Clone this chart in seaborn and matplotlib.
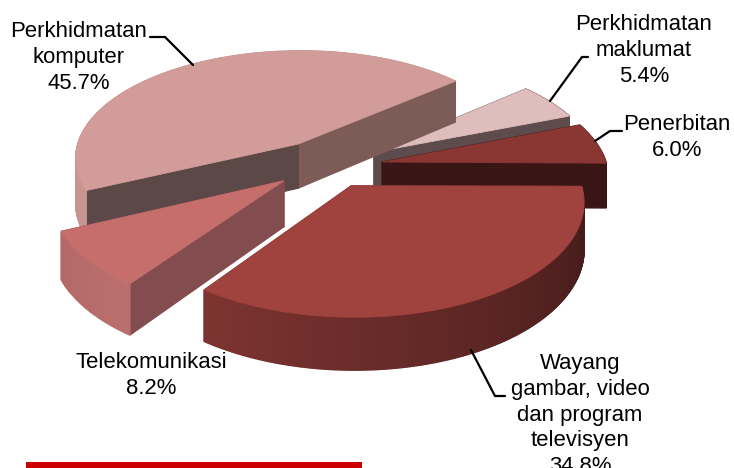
import numpy as np
import matplotlib
matplotlib.use("Agg")
import matplotlib.pyplot as plt
import seaborn as sns

# data
labels = ["Perkhidmatan\nmaklumat\n5.4%", "Penerbitan\n6.0%",
          "Perkhidmatan\nkomputer\n45.7%", "Telekomunikasi\n8.2%",
          "Wayang\ngambar, video\ndan program\ntelevisyen\n34.8%"]
names = ["maklumat", "penerbitan", "komputer", "telekom", "wayang"]
values = [5.4, 6.0, 45.7, 8.2, 34.8]

# style
start_deg = 21.0
explode = {"maklumat": .29, "penerbitan": .26, "komputer": .20, "telekom": .25, "wayang": .22}
nudge = {"maklumat": (-6, 6), "penerbitan": (0, 5), "komputer": (-3, 0), "telekom": (3, 1), "wayang": (3, 2)}
top_col = {"maklumat": "#e0bdbd", "penerbitan": "#8a3734", "komputer": "#d29c9a",
           "telekom": "#c56e6c", "wayang": "#a0423e"}
start_wall = {"maklumat": "#5e4b4b", "penerbitan": "#3a1515", "komputer": "#7d5c58",
              "telekom": "#8a5050", "wayang": "#7a3330"}
end_wall = {"maklumat": "#5e4b4b", "penerbitan": "#3a1515", "komputer": "#5c4847",
            "telekom": "#834c4e", "wayang": "#7a3330"}
outer_grad = {"maklumat": ("#5e4b4b", "#5e4b4b"), "penerbitan": ("#3a1515", "#3a1515"),
              "komputer": ("#c89490", "#c89490"), "telekom": ("#b46868", "#bb6e6e"),
              "wayang": ("#7d3431", "#3e1918")}
text_pos = {"maklumat": (644, 14), "penerbitan": (677, 114), "komputer": (79, 21),
            "telekom": (151, 352), "wayang": (580, 353)}
leaders = {"maklumat": ([550, 582, 588], [101, 57, 57]), "penerbitan": ([595, 610, 622], [141, 131, 131]),
           "komputer": ([150, 165, 193], [37, 37, 65]), "wayang": ([471, 495, 505], [350, 396, 396])}

sns.set_theme(style="white")
plt.rcParams["font.family"] = ["Liberation Sans", "DejaVu Sans"]

fig, ax = plt.subplots(figsize=(7.34, 4.68), dpi=100)
ax.set_position([0, 0, 1, 1])
ax.set_xlim(0, 734)
ax.set_ylim(468, 0)
ax.axis("off")

CX, CY, R, S, D, H = 325, 162, 225, 109, 8.0, 45


def project(x, y, z=0.0):
    w = D / (D + y)
    return CX + R * x * w, CY - S * y * w + H * z * w


def quad(p, q, z0=0.0, z1=1.0):
    a = project(*p, z0); b = project(*q, z0); c = project(*q, z1); d = project(*p, z1)
    return [a[0], b[0], c[0], d[0]], [a[1], b[1], c[1], d[1]]


def draw_slice(name, a0, a1):
    bis = np.radians((a0 + a1) / 2)
    ox, oy = explode[name] * np.cos(bis), explode[name] * np.sin(bis)
    dx, dy = nudge[name]
    th = np.radians(np.linspace(a0, a1, max(int(a1 - a0), 2) * 2 + 1))
    xs, ys = ox + np.cos(th), oy + np.sin(th)
    apex = (ox, oy)
    walls = []
    pal = sns.blend_palette(list(outer_grad[name]), len(th) - 1)
    for i in range(len(th) - 1):
        p, q = (xs[i], ys[i]), (xs[i + 1], ys[i + 1])
        walls.append(((ys[i] + ys[i + 1]) / 2, p, q, pal[i]))
    walls.append(((apex[1] + ys[0]) / 2, apex, (xs[0], ys[0]), start_wall[name]))
    walls.append(((apex[1] + ys[-1]) / 2, apex, (xs[-1], ys[-1]), end_wall[name]))
    for _, p, q, col in sorted(walls, key=lambda t: -t[0]):
        px, py = quad(p, q)
        ax.fill(np.add(px, dx), np.add(py, dy), color=col, lw=1.0, zorder=2)
    tx, ty = project(np.r_[apex[0], xs], np.r_[apex[1], ys])
    ax.fill(tx + dx, ty + dy, color=top_col[name], lw=0.6, zorder=2)


angles = {}
cur = start_deg - values[1] * 3.6
order = ["penerbitan", "maklumat", "komputer", "telekom", "wayang"]
for n in order:
    v = values[names.index(n)]
    angles[n] = (cur, cur + v * 3.6)
    cur += v * 3.6

for n in names:
    draw_slice(n, *angles[n])

for n, lab in zip(names, labels):
    x, y = text_pos[n]
    ax.text(x, y, lab, ha="center", va="top", fontsize=15.9, color="black",
            linespacing=1.3, zorder=5, clip_on=True)

for xs_, ys_ in leaders.values():
    ax.plot(xs_, ys_, color="black", lw=1.6, zorder=4, solid_joinstyle="miter")

ax.add_patch(plt.Rectangle((26, 462), 336, 8, color="#cc0000", lw=0, zorder=3))

fig.savefig("out.png", dpi=100)
